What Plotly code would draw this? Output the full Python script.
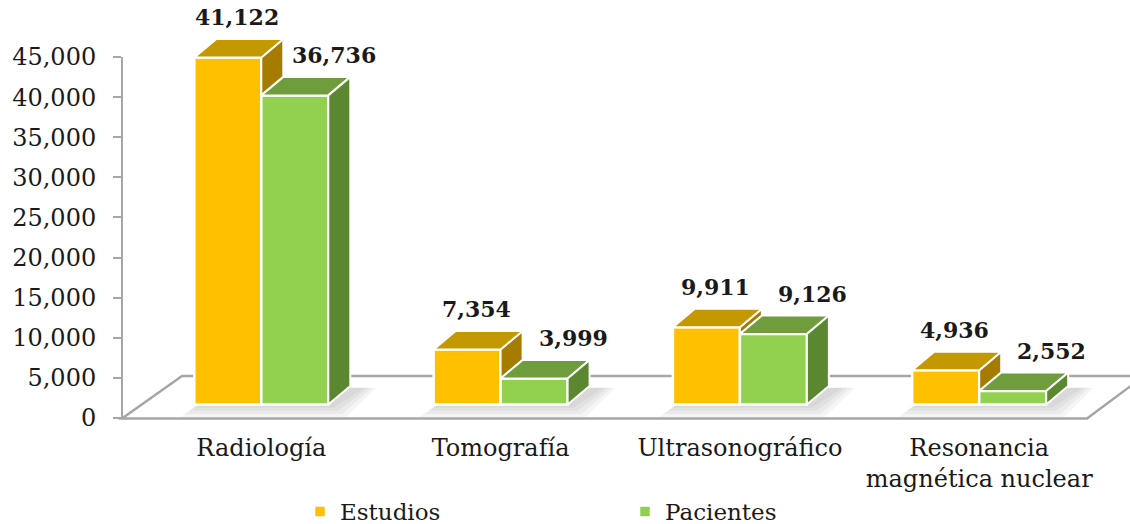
import plotly.graph_objects as go

# ---------------- data ----------------
categories = ["Radiología", "Tomografía", "Ultrasonográfico", "Resonancia<br>magnética nuclear"]
series_names = ["Estudios", "Pacientes"]
estudios = [41122, 7354, 9911, 4936]
pacientes = [36736, 3999, 9126, 2552]
y_ticks = [0, 5000, 10000, 15000, 20000, 25000, 30000, 35000, 40000, 45000]

# ---------------- styles / geometry ----------------
W, H = 1130, 524
ML, MR, MT, MB = 122, 30, 5, 106
PW, PH = W - ML - MR, H - MT - MB
BOTTOM_PX = H - MB

FONT = "DejaVu Serif"
TXT = "#1a1a1a"
GRAY = "#A6A6A6"

E_FRONT, E_TOP, E_SIDE = "#FFC000", "#C39800", "#A57B00"
P_FRONT, P_TOP, P_SIDE = "#92D050", "#6F9D3C", "#5B8731"

# visible value axis: 45,000 sits at pixel 57, 0 at the plot bottom
AXIS_TOP_PX = 57
y_px_per = (BOTTOM_PX - AXIS_TOP_PX) / y_ticks[-1]
y_range = [0, PH / y_px_per]

# perspective bar axis (3-D columns are recessed behind the front axis)
ZERO_PX, BAR_PX = 413.0, 0.008646
y_bar_range = [(ZERO_PX - BOTTOM_PX) / BAR_PX, (ZERO_PX - MT) / BAR_PX]
FLOOR_V = (ZERO_PX - 404.5) / BAR_PX

# category axis
X0PX, XPX = 261.3, 239.3
x_range = [(ML - X0PX) / XPX, (W - MR - X0PX) / XPX]
BW = 0.28
DX = 22 / XPX
DY = 18.5 / BAR_PX
PXV = 1 / BAR_PX  # value units per pixel


def px(x):
    return (x - ML) / PW


def py(y):
    return (BOTTOM_PX - y) / PH


idx = list(range(len(categories)))
fig = go.Figure()

# soft shadows on the floor (several faint nested layers on the lower overlay)
for k in range(4):
    g = (3 - k) * 4  # pixels of spread
    sx, sy = [], []
    for i in idx:
        xl, xr = i - BW, i + BW
        xa = xl - (2 + g) / XPX
        xb = xr + DX + (14 + g) / XPX
        yb = FLOOR_V - (3 + g * 0.8) * PXV
        yt = FLOOR_V + DY * 0.9
        sx += [xa, xr + (6 + g) / XPX, xb, xl + 30 / XPX, xa, None]
        sy += [yb, yb, yt, yt, yb, None]
    fig.add_trace(go.Scatter(x=sx, y=sy, xaxis="x", yaxis="y2", mode="lines", fill="toself",
                             fillcolor="rgba(0,0,0,0.04)", line=dict(width=0),
                             hoverinfo="skip", showlegend=False))

# front faces
for name, vals, col, off in [(series_names[0], estudios, E_FRONT, -BW),
                             (series_names[1], pacientes, P_FRONT, 0.0)]:
    fig.add_trace(go.Bar(
        x=idx, y=[v - FLOOR_V for v in vals], base=FLOOR_V, width=BW, offset=off,
        name=name, xaxis="x", yaxis="y3",
        marker=dict(color=col, line=dict(color="white", width=2.5)),
        hoverinfo="skip",
    ))


# top and side faces
def poly_trace(xs, ys, color):
    return go.Scatter(x=xs, y=ys, xaxis="x", yaxis="y3", mode="lines", fill="toself",
                      fillcolor=color, line=dict(color="white", width=2),
                      hoverinfo="skip", showlegend=False)


es_x, es_y, et_x, et_y, pt_x, pt_y, ps_x, ps_y = ([] for _ in range(8))
for i in idx:
    T, P = estudios[i], max(pacientes[i], FLOOR_V)
    e0, e1 = i - BW, i
    p0, p1 = i, i + BW
    es_x += [e1, e1 + DX, e1 + DX, e1, e1, None]
    es_y += [T, T + DY, P + DY, P, T, None]
    et_x += [e0, e1, e1 + DX, e0 + DX, e0, None]
    et_y += [T, T, T + DY, T + DY, T, None]
    pt_x += [p0, p1, p1 + DX, p0 + DX, p0, None]
    pt_y += [P, P, P + DY, P + DY, P, None]
    ps_x += [p1, p1 + DX, p1 + DX, p1, p1, None]
    ps_y += [P, P + DY, FLOOR_V + DY, FLOOR_V, P, None]

fig.add_trace(poly_trace(es_x, es_y, E_SIDE))
fig.add_trace(poly_trace(et_x, et_y, E_TOP))
fig.add_trace(poly_trace(pt_x, pt_y, P_TOP))
fig.add_trace(poly_trace(ps_x, ps_y, P_SIDE))

# data labels
annotations = []
for i in idx:
    annotations.append(dict(x=i - BW / 2, y=estudios[i], xref="x", yref="y3",
                            text=f"<b>{estudios[i]:,}</b>", showarrow=False,
                            xshift=9, yshift=40, yanchor="middle",
                            font=dict(family=FONT, size=22, color=TXT)))
    annotations.append(dict(x=i + BW / 2, y=pacientes[i], xref="x", yref="y3",
                            text=f"<b>{pacientes[i]:,}</b>", showarrow=False,
                            xshift=39, yshift=40, yanchor="middle",
                            font=dict(family=FONT, size=22, color=TXT)))

# floor and value-axis line
shapes = [
    dict(type="path", xref="paper", yref="paper", layer="below",
         path=f"M {px(122)},{py(418.5)} L {px(1087)},{py(418.5)} L {px(1144)},{py(376)} "
              f"L {px(182)},{py(376)} Z",
         line=dict(color=GRAY, width=2.5), fillcolor="white"),
    dict(type="line", xref="paper", yref="y", x0=0, x1=0, y0=y_ticks[0], y1=y_ticks[-1],
         line=dict(color=GRAY, width=2), layer="above"),
]

fig.update_layout(
    width=W, height=H,
    margin=dict(l=ML, r=MR, t=MT, b=MB, autoexpand=False),
    paper_bgcolor="white", plot_bgcolor="white",
    font=dict(family=FONT, size=22, color=TXT),
    xaxis=dict(range=x_range, tickvals=idx, ticktext=categories, showgrid=False,
               zeroline=False, showline=False, ticks="", fixedrange=True, automargin=False,
               ticklabelstandoff=13,
               tickfont=dict(family=FONT, size=24, color=TXT)),
    yaxis=dict(range=y_range, tickvals=y_ticks, tickformat=",", showgrid=False,
               zeroline=False, showline=False, ticks="outside", ticklen=8, tickwidth=2,
               tickcolor=GRAY, ticklabelstandoff=12, automargin=False, fixedrange=True,
               tickfont=dict(family=FONT, size=24, color=TXT)),
    yaxis2=dict(range=y_bar_range, overlaying="y", visible=False, fixedrange=True),
    yaxis3=dict(range=y_bar_range, overlaying="y", visible=False, fixedrange=True),
    showlegend=True,
    legend=dict(orientation="h", xref="container", yref="container",
                x=300 / W, xanchor="left", y=1 - 490 / H, yanchor="top",
                entrywidth=280, font=dict(family=FONT, size=23, color=TXT),
                bgcolor="rgba(0,0,0,0)"),
    annotations=annotations,
    shapes=shapes,
    barmode="overlay",
)

fig.write_html("out.html", config={"displayModeBar": False},
               post_script="document.body.style.margin='0px';document.body.style.overflow='hidden';")
